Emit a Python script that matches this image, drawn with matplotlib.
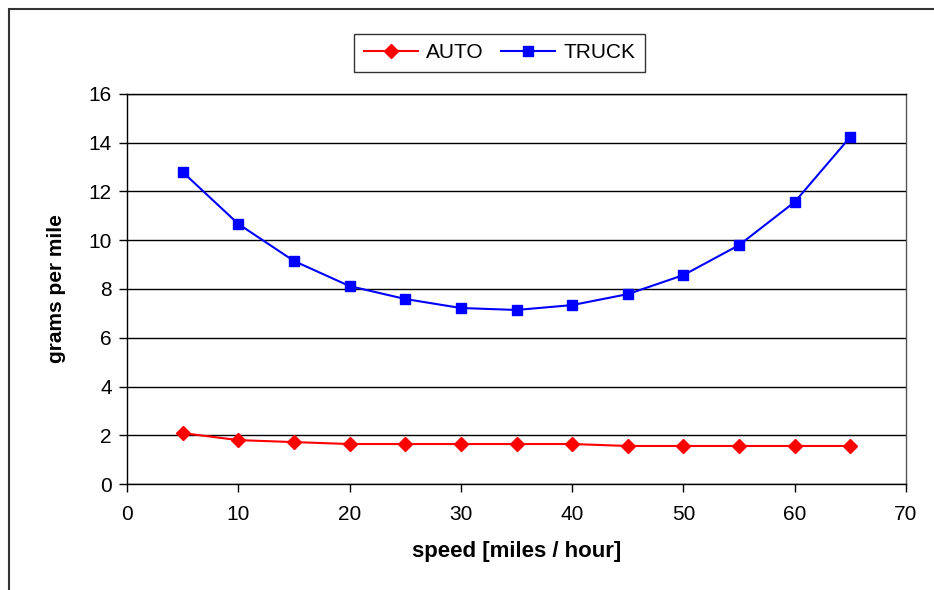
import matplotlib.pyplot as plt
from matplotlib.patches import Rectangle

plt.rcParams['font.family'] = ['Liberation Sans', 'DejaVu Sans']

speed = [5, 10, 15, 20, 25, 30, 35, 40, 45, 50, 55, 60, 65]
auto = [2.09, 1.80, 1.72, 1.64, 1.64, 1.64, 1.64, 1.64, 1.56, 1.56, 1.56, 1.56, 1.56]
truck = [12.8, 10.67, 9.15, 8.12, 7.59, 7.22, 7.14, 7.34, 7.79, 8.57, 9.8, 11.57, 14.24]

fig = plt.figure(figsize=(9.34, 5.90), dpi=100)

# outer chart frame (runs off the right and bottom edges)
fig.patches.append(Rectangle((9 / 934, -0.1), 1.2, 1 - 9 / 590 + 0.1,
                             transform=fig.transFigure, fill=False,
                             edgecolor='#333333', linewidth=1.5))

ax = fig.add_axes([127 / 934, 106 / 590, 779 / 934, 390 / 590])
ax.plot(speed, auto, color='#ff0000', marker='D', markersize=7.5,
        linewidth=1.5, label='AUTO', zorder=3)
ax.plot(speed, truck, color='#0000ff', marker='s', markersize=7.5,
        linewidth=1.5, label='TRUCK', zorder=3)

ax.set_xlim(0, 70)
ax.set_ylim(0, 16)
ax.set_xticks(range(0, 71, 10))
ax.set_yticks(range(0, 17, 2))
ax.grid(axis='y', color='black', linewidth=1.0)
ax.set_axisbelow(True)
for s in ax.spines.values():
    s.set_color('black')
    s.set_linewidth(1.0)
ax.spines['right'].set_color('#555555')
ax.tick_params(direction='out', length=6, width=1, labelsize=15, pad=5)
ax.tick_params(axis='x', pad=9)

ax.set_xlabel('speed [miles / hour]', fontsize=16, fontweight='bold', labelpad=12)
ax.set_ylabel('grams per mile', fontsize=15, fontweight='bold', labelpad=16)

leg = fig.legend(loc='center', bbox_to_anchor=(499.5 / 934, 1 - 53 / 590),
                 ncol=2, fontsize=15, frameon=True, fancybox=False,
                 edgecolor='black', handlelength=2.6, columnspacing=0.8,
                 handletextpad=0.4, borderpad=0.45)
leg.get_frame().set_linewidth(1.0)

plt.savefig('out.png', dpi=100)
